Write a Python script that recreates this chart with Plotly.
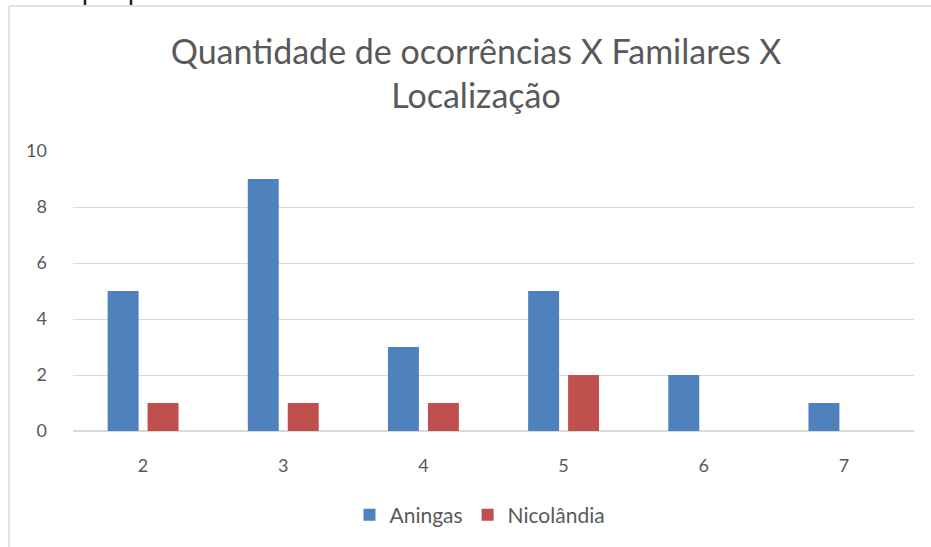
import plotly.graph_objects as go

categories = ["2", "3", "4", "5", "6", "7"]
aningas = [5, 9, 3, 5, 2, 1]
nicolandia = [1, 1, 1, 2, 0, 0]
y_ticks = [0, 2, 4, 6, 8, 10]
title_text = "Quantidade de ocorrências X Familares X<br>Localização"

W, H = 931, 547
L, R, T, B = 73, 17, 151, 116
pw, ph = W - L - R, H - T - B

def px(x):
    return (x - L) / pw

def py(y):
    return (H - B - y) / ph

fig = go.Figure()
fig.add_bar(x=categories, y=aningas, name="Aningas", marker_color="#4f81bd",
            marker_line_width=0)
fig.add_bar(x=categories, y=nicolandia, name="Nicolândia", marker_color="#c0504d",
            marker_line_width=0)

font_family = "Lato, 'Open Sans', sans-serif"
grey = "#595959"

fig.update_layout(
    width=W, height=H,
    margin=dict(l=L, r=R, t=T, b=B),
    paper_bgcolor="white", plot_bgcolor="white",
    barmode="group", bargap=0.43, bargroupgap=0.225,
    font=dict(family=font_family, color=grey, size=17),
    title=dict(text=title_text, x=476 / W, xref="container", xanchor="center",
               y=1 - 64 / H, yanchor="top", yref="container",
               font=dict(size=34, color=grey, family=font_family)),
    legend=dict(orientation="h", x=480 / W, xref="container", xanchor="center",
                y=1 - 515 / H, yref="container", yanchor="middle",
                font=dict(size=21, color=grey), itemwidth=30),
    showlegend=True,
)
fig.update_xaxes(type="category", showgrid=False, showline=False, zeroline=False,
                 ticks="", tickfont=dict(size=18, color=grey), ticklabelstandoff=22)
fig.update_yaxes(range=[0, 10], tickvals=y_ticks, showgrid=True, gridcolor="#d9d9d9",
                 gridwidth=1, zeroline=True, zerolinecolor="#d9d9d9", zerolinewidth=1.5,
                 showline=False, ticks="", tickfont=dict(size=18, color=grey),
                 ticklabelstandoff=25)

# chart border (left and top edges visible in the screenshot)
fig.add_shape(type="line", xref="paper", yref="paper",
              x0=px(9), x1=px(9), y0=py(6), y1=py(H + 5),
              line=dict(color="#d9d9d9", width=1.5))
fig.add_shape(type="line", xref="paper", yref="paper",
              x0=px(9), x1=px(W + 5), y0=py(6), y1=py(6),
              line=dict(color="#d9d9d9", width=1.5))
# cut-off fragments of text above the chart
for xm in (85, 131):
    fig.add_shape(type="line", xref="paper", yref="paper",
                  x0=px(xm), x1=px(xm), y0=py(-2), y1=py(5),
                  line=dict(color="#222222", width=2.5))

fig.write_html("out.html", config={"displayModeBar": False},
               post_script="document.body.style.margin='0';")
